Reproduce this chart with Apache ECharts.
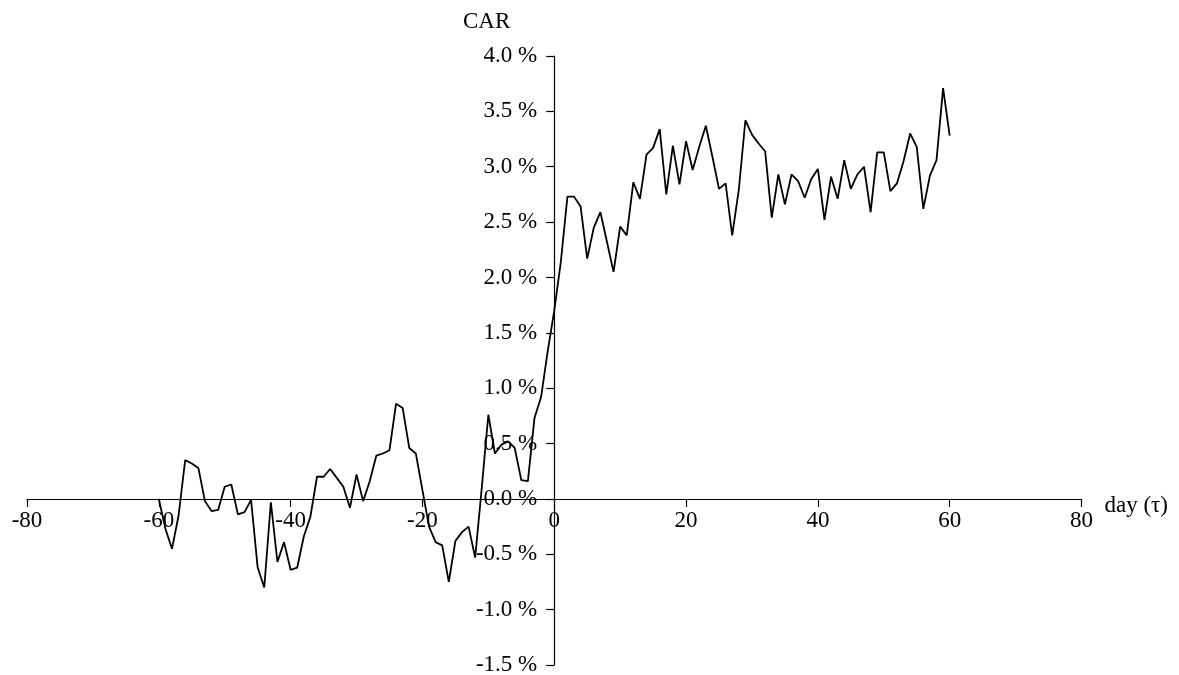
<!DOCTYPE html>
<html>
<head>
<meta charset="utf-8">
<script src="https://cdn.jsdelivr.net/npm/echarts@6/dist/echarts.min.js"></script>
<style>
html,body{margin:0;padding:0;background:#fff;}
#chart{width:1179px;height:675px;}
</style>
</head>
<body>
<div id="chart"></div>
<script>
var days = [-60,-59,-58,-57,-56,-55,-54,-53,-52,-51,-50,-49,-48,-47,-46,-45,-44,-43,-42,-41,
-40,-39,-38,-37,-36,-35,-34,-33,-32,-31,-30,-29,-28,-27,-26,-25,-24,-23,-22,-21,
-20,-19,-18,-17,-16,-15,-14,-13,-12,-11,-10,-9,-8,-7,-6,-5,-4,-3,-2,-1,
0,1,2,3,4,5,6,7,8,9,10,11,12,13,14,15,16,17,18,19,
20,21,22,23,24,25,26,27,28,29,30,31,32,33,34,35,36,37,38,39,
40,41,42,43,44,45,46,47,48,49,50,51,52,53,54,55,56,57,58,59,60];

var car = [0.00,-0.27,-0.45,-0.15,0.35,0.32,0.28,-0.02,-0.11,-0.10,0.11,0.13,-0.14,-0.12,-0.01,-0.62,-0.80,-0.03,-0.57,-0.39,
-0.64,-0.62,-0.34,-0.16,0.20,0.20,0.27,0.19,0.11,-0.08,0.22,-0.02,0.16,0.39,0.41,0.44,0.86,0.82,0.46,0.41,
0.08,-0.25,-0.39,-0.42,-0.75,-0.38,-0.30,-0.25,-0.53,0.10,0.76,0.41,0.49,0.52,0.46,0.17,0.16,0.73,0.92,1.33,
1.70,2.14,2.73,2.73,2.64,2.17,2.45,2.59,2.32,2.05,2.46,2.38,2.86,2.71,3.11,3.17,3.34,2.75,3.19,2.84,
3.23,2.97,3.18,3.37,3.09,2.80,2.85,2.38,2.79,3.42,3.29,3.21,3.14,2.54,2.93,2.66,2.93,2.87,2.72,2.89,
2.98,2.52,2.91,2.71,3.06,2.80,2.93,3.00,2.59,3.13,3.13,2.78,2.85,3.05,3.30,3.18,2.62,2.92,3.06,3.71,3.28];

var xName = 'day (\u03c4)';
var yName = 'CAR';

var data = days.map(function (d, i) { return [d, car[i]]; });
var font = 'Liberation Serif';
var fs = 23;

var W = 1179, H = 675;
var gl = 27, gr = 97.5, gt = 56, gb = 10;
var xMin = -80, xMax = 80, yMin = -1.5, yMax = 4.0;
// offsets so that the axes cross at the origin (computed from the scale ranges)
var gw = W - gl - gr, gh = H - gt - gb;
var xAxisOffset = -gh * (0 - yMin) / (yMax - yMin);
var yAxisOffset = -gw * (0 - xMin) / (xMax - xMin);

var chart = echarts.init(document.getElementById('chart'), null, {renderer: 'canvas'});
chart.setOption({
  animation: false,
  backgroundColor: '#fff',
  grid: {left: gl, right: gr, top: gt, bottom: gb, containLabel: false, outerBoundsMode: 'none'},
  xAxis: {
    type: 'value', min: xMin, max: xMax, interval: 20,
    position: 'bottom', offset: xAxisOffset,
    name: xName, nameLocation: 'end', nameGap: 23,
    nameTextStyle: {fontFamily: font, fontSize: fs, color: '#000', verticalAlign: 'top', lineHeight: 14},
    axisLine: {onZero: false, lineStyle: {color: '#000', width: 1.2}},
    axisTick: {show: true, inside: false, length: 8, lineStyle: {color: '#000', width: 1.2}},
    axisLabel: {fontFamily: font, fontSize: fs, color: '#000', margin: 11},
    splitLine: {show: false}
  },
  yAxis: {
    type: 'value', min: yMin, max: yMax, interval: 0.5,
    position: 'left', offset: yAxisOffset,
    name: yName, nameLocation: 'end', nameGap: 23,
    nameTextStyle: {fontFamily: font, fontSize: fs, color: '#000', align: 'right', padding: [0, 44, 0, 0]},
    axisLine: {onZero: false, lineStyle: {color: '#000', width: 1.2}},
    axisTick: {show: true, inside: false, length: 8, lineStyle: {color: '#000', width: 1.2}},
    axisLabel: {fontFamily: font, fontSize: fs, color: '#000', margin: 17,
      formatter: function (v) { return v.toFixed(1) + ' %'; }},
    splitLine: {show: false}
  },
  series: [{
    type: 'line', data: data, showSymbol: false, symbol: 'none',
    lineStyle: {color: '#000', width: 1.8}
  }]
});
</script>
</body>
</html>
